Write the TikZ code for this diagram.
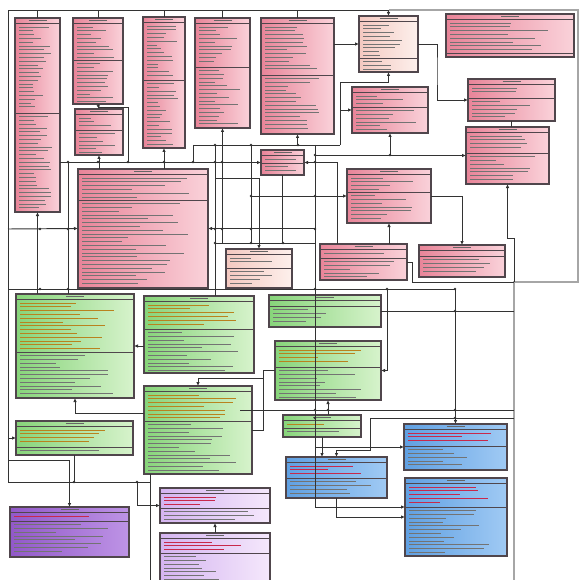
\documentclass[tikz,border=0pt]{standalone}
\usepackage{tikz}
\usetikzlibrary{arrows.meta,calc}

\definecolor{pinkA}{RGB}{232,132,152}
\definecolor{pinkB}{RGB}{250,210,218}
\definecolor{peachA}{RGB}{244,200,192}
\definecolor{peachB}{RGB}{253,240,236}
\definecolor{greenA}{RGB}{135,212,122}
\definecolor{greenB}{RGB}{215,243,204}
\definecolor{blueA}{RGB}{96,160,226}
\definecolor{blueB}{RGB}{160,202,244}
\definecolor{violetA}{RGB}{145,88,200}
\definecolor{violetB}{RGB}{190,148,230}
\definecolor{lilacA}{RGB}{212,180,240}
\definecolor{lilacB}{RGB}{245,232,252}
\definecolor{edge}{RGB}{80,70,76}
\definecolor{redtxt}{RGB}{200,40,75}
\definecolor{olivetxt}{RGB}{185,130,30}

\tikzset{
  classbox/.style={draw=edge, line width=1.1pt, inner sep=0pt, outer sep=0pt},
  pinkcls/.style={classbox, left color=pinkA, right color=pinkB},
  peachcls/.style={classbox, left color=peachA, right color=peachB},
  greencls/.style={classbox, left color=greenA, right color=greenB},
  bluecls/.style={classbox, left color=blueA, right color=blueB},
  violetcls/.style={classbox, left color=violetA, right color=violetB},
  lilaccls/.style={classbox, left color=lilacA, right color=lilacB},
  sep/.style={draw=edge, line width=0.8pt},
  txt/.style={line width=0.65pt},
  link/.style={draw=black!80, line width=0.95pt},
  arr/.style={link, -{Latex[length=4pt,width=3.5pt]}},
  frame/.style={draw=black!35, line width=1.1pt},
}

% rows of unreadable member text
\newcommand{\textrows}[5]{%
  \pgfmathsetmacro\rowa{#2}%
  \pgfmathsetmacro\rowd{(#4)-(#2)}%
  \ifdim\rowd pt<0pt \else
  \pgfmathtruncatemacro\rown{\rowd/3.8}%
  \foreach \k in {0,...,\rown}{%
    \pgfmathsetmacro\rowlen{((#3)-(#1)-8)*(0.3+0.6*rnd)}%
    \draw[txt,#5] ({#1+4},{\rowa+3.8*\k}) -- ++(\rowlen,0);
  }\fi
}

% class: name, x1, y1, x2, y2, divider, style, attribute colour
\newcommand{\umlclass}[8]{%
  \node[#7, minimum width={(#4-#2)*1pt}, minimum height={(#5-#3)*1pt}] (#1) at ({(#2+#4)/2},{(#3+#5)/2}) {};
  \draw[sep] (#2,#3+5.5) -- (#4,#3+5.5);
  \draw[sep] (#2,#6) -- (#4,#6);
  \draw[txt,black!60] ({(#2+#4)/2-9},#3+2.8) -- ++(18,0);
  \textrows{#2}{#3+9}{#4}{#6-2.5}{#8}
  \textrows{#2}{#6+3.5}{#4}{#5-2.5}{black!55}
}

\begin{document}
\begin{tikzpicture}[x=1pt,y=-1pt]
\useasboundingbox (0,0) rectangle (580,580);
\fill[white] (0,0) rectangle (580,580);
\pgfmathsetseed{7}

% pink classes
\umlclass{redA}{15}{18}{60}{212}{113}{pinkcls}{black!55}
\umlclass{redB}{73}{18}{123}{104}{60}{pinkcls}{black!55}
\umlclass{redC}{143}{17}{185}{148}{80}{pinkcls}{black!55}
\umlclass{redD}{195}{18}{250}{128}{67}{pinkcls}{black!55}
\umlclass{redE}{261}{18}{334}{134}{75}{pinkcls}{black!55}
\umlclass{redF}{359}{16}{418}{72}{58}{peachcls}{black!55}
\umlclass{redG}{446}{14}{574}{57}{53}{pinkcls}{black!55}
\umlclass{redH}{352}{87}{428}{133}{107}{pinkcls}{black!55}
\umlclass{redI}{468}{79}{555}{121}{98}{pinkcls}{black!55}
\umlclass{redJ}{466}{127}{549}{184}{153}{pinkcls}{black!55}
\umlclass{redK}{347}{169}{431}{223}{192}{pinkcls}{black!55}
\umlclass{redL}{261}{150}{304}{175}{163}{pinkcls}{black!55}
\umlclass{redM}{75}{109}{123}{155}{130}{pinkcls}{black!55}
\umlclass{redN}{78}{169}{208}{288}{200}{pinkcls}{black!55}
\umlclass{redO}{226}{249}{292}{288}{268}{peachcls}{black!55}
\umlclass{redP}{320}{244}{407}{280}{258}{pinkcls}{black!55}
\umlclass{redQ}{419}{245}{505}{277}{256}{pinkcls}{black!55}

% green classes
\umlclass{grnA}{16}{294}{134}{398}{352}{greencls}{olivetxt}
\umlclass{grnB}{144}{296}{254}{373}{329}{greencls}{olivetxt}
\umlclass{grnC}{269}{295}{381}{327}{306}{greencls}{olivetxt}
\umlclass{grnD}{275}{341}{381}{400}{367}{greencls}{olivetxt}
\umlclass{grnE}{144}{386}{252}{474}{421}{greencls}{olivetxt}
\umlclass{grnF}{16}{421}{133}{455}{447}{greencls}{olivetxt}
\umlclass{grnG}{283}{415}{361}{437}{428}{greencls}{olivetxt}

% blue classes
\umlclass{bluA}{404}{424}{507}{470}{446}{bluecls}{redtxt}
\umlclass{bluB}{286}{457}{387}{498}{478}{bluecls}{redtxt}
\umlclass{bluC}{405}{478}{507}{556}{507}{bluecls}{redtxt}

% violet classes
\umlclass{vioA}{10}{507}{129}{557}{521}{violetcls}{redtxt}
\umlclass{vioB}{160}{488}{270}{523}{508}{lilaccls}{redtxt}
\umlclass{vioC}{160}{533}{270}{584}{553}{lilaccls}{redtxt}

% bend points of the connectors
\coordinate (topbus) at (0,10);
\coordinate (bot) at (0,580);
\coordinate (lb) at (8,482);
\coordinate (bFI) at (437,70);
\coordinate (b145l) at (193,145);
\coordinate (b145r) at (340,145);
\coordinate (b82) at (0,82);
\coordinate (k107) at (0,107);
\coordinate (k128) at (128,162);
\coordinate (v68) at (68,162);
\coordinate (v215) at (215,145);
\coordinate (v251) at (251,145);
\coordinate (v315) at (315,145);
\coordinate (h178) at (215,178);
\coordinate (h243l) at (215,243);
\coordinate (h243r) at (315,243);
\coordinate (h229l) at (8,229);
\coordinate (h196) at (251,196);
\coordinate (v337) at (337,244);
\coordinate (rj) at (514,238);
\coordinate (rr) at (514,282);
\coordinate (rp) at (412,282);
\coordinate (h289) at (8,289);
\coordinate (v387) at (387,289);
\coordinate (h410l) at (240,410);
\coordinate (h410r) at (514,410);
\coordinate (h418) at (514,418);
\coordinate (v370) at (370,450);
\coordinate (c507) at (405,507);
\coordinate (c413) at (144,413);
\coordinate (c263) at (263,378);
\coordinate (c460) at (8,460);
\coordinate (c438) at (8,438);
\coordinate (c150) at (150,482);
\coordinate (c137) at (137,482);

% frame
\draw[frame] (redF.north |- topbus) -- (578,10) -- (578,282) -- (rr) -- (rr |- bot);

% top row
\draw[arr] (lb) |- (redF.north |- topbus) -- (redF.north);
\foreach \c in {redA,redB,redC,redD,redE}
  \draw[link] (\c.north) -- (\c.north |- topbus);
\draw[arr] (redF.west -| redE.east) -- (redF.west);
\draw[arr] (redF.east) -| (bFI) |- (redI.west);
\draw[link] (redI.south) -- (redI.south |- redJ.north);
\draw[arr] (b145r) |- (redF.south |- b82) -- (redF.south);
\draw[arr] (b145r |- redH.west) -- (redH.west);
\draw[arr] (redB.south) -- (redM.north);
\draw[link] (redB.south |- k107) -| (k128);

% middle buses
\draw[link] (b145l) -- (b145r);
\draw[link] (b145l) -- (b145l |- redL.west);
\draw[arr] (redA.east |- redL.west) -- (redL.west);
\draw[arr] (redM.south |- redL.west) -- (redM.south);
\draw[link] (redM.south |- redL.west) -- (redM.south |- redN.north);
\draw[arr] (redC.south |- redL.west) -- (redC.south);
\draw[link] (redC.south |- redL.west) -- (redC.south |- redN.north);
\draw[arr] (redE.south |- b145l) -- (redE.south);
\draw[arr] (redD.south |- h243l) -- (redD.south);
\draw[link] (v215) -- (v215 |- grnB.north);
\draw[link] (v251) -- (v251 |- h243l);
\draw[link] (h243l) -- (h243r);
\draw[arr] (h178) -| (redO.north);
\draw[link] (redL.south) -- (redL.south |- h243l);
\draw[arr] (v337) |- (redL.east);
\draw[arr] (h196) -- (redK.west);
\draw[arr] (h229l) -- (redN.west);
\draw[arr] (v315 |- redN.east) -- (redN.east);
\draw[link] (v68) -- (v68 |- grnA.north);
\draw[arr] (redA.south |- grnA.north) -- (redA.south);
\draw[arr] (v315 |- redJ.west) -- (redJ.west);
\draw[arr] (redH.south |- redJ.west) -- (redH.south);
\draw[arr] (redK.south |- redP.north) -- (redK.south);
\draw[arr] (redK.east) -| (redQ.north);
\draw[link] (redP.east) -| (rp) -- (rr);
\draw[arr] (rr) |- (redJ.south |- rj) -- (redJ.south);

% lower part
\draw[arr] (v315) |- (c507);
\draw[arr] (h289) -| (bluA.north);
\draw[arr] (v387) |- (grnD.east);
\draw[link] (grnC.east) -- (grnC.east -| rr);
\draw[arr] (grnD.south |- grnG.north) -- (grnD.south);
\draw[link] (h410l) -- (h410r);
\draw[arr] (h418) -| (v370) -| (bluB.north);
\draw[arr] (grnG.south) -- (grnG.south |- bluB.north);
\draw[arr] (v315 |- bluA.west) -- (bluA.west);
\draw[arr] (bluB.south) |- (bluC.west);
\draw[arr] (grnA.east -| grnB.west) -- (grnA.east);
\draw[arr] (c413) -| (grnA.south);
\draw[arr] (grnD.west) -| (c263) -- (grnE.north |- c263) -- (grnE.north);
\draw[link] (grnE.east) -| (c263);
\draw[arr] (c438) -- (grnF.west);
\draw[link] (grnF.south) -- (grnF.south |- lb);
\draw[arr] (c460) -| (vioA.north);
\draw[link] (lb) -- (c150);
\draw[link] (c150 |- grnE.south) -- (c150 |- bot);
\draw[arr] (c137) |- (vioB.west);
\draw[arr] (vioC.north) -- (vioB.south);

% junction dots
\foreach \p in {(40,229),(68,229),(68,162),(98,162),(128,162),(164,162),(193,162),(215,162),(222,162),
  (215,229),(222,229),(251,229),(315,229),(251,196),(315,196),(315,162),(215,243),(251,243),(283,243),
  (315,155),(390,155),(298,145),(215,145),(251,145),(315,289),(387,289),(455,289),(455,410),(315,410),
  (328,410),(315,418),(455,418),(455,311),(68,289),(40,289),(137,482),(74,482)}
  \fill[black!80] \p circle (1.4pt);
\end{tikzpicture}
\end{document}
